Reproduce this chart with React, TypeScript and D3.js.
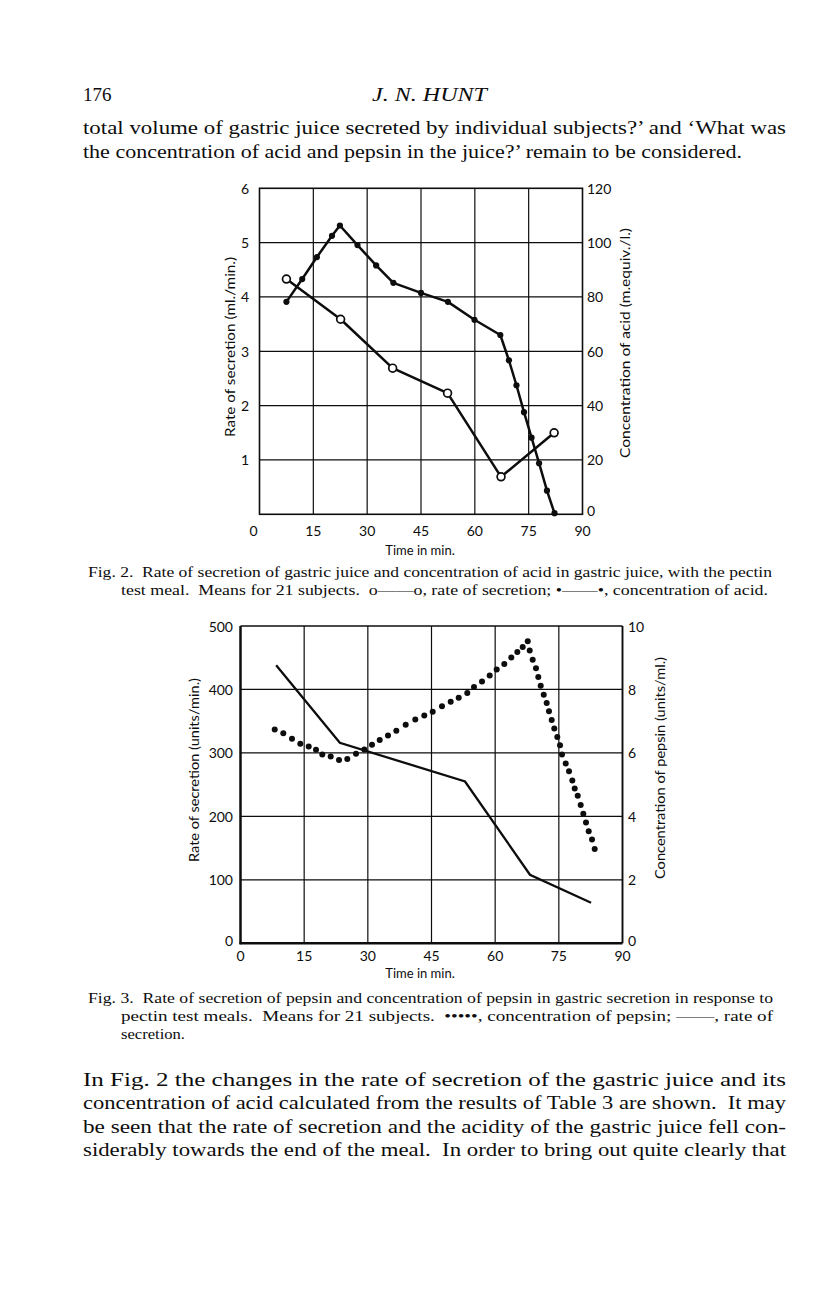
import React from "react";
import * as d3 from "d3";

// ---------- Fig. 2 data ----------
const fig2XTicks = [0, 15, 30, 45, 60, 75, 90];
const fig2LeftTicks = [1, 2, 3, 4, 5, 6];
const fig2RightTicks = [0, 20, 40, 60, 80, 100, 120];
const fig2RateTime = [7.5, 22.6, 37.1, 52.4, 67.3, 82.1];
const fig2RateValues = [4.33, 3.59, 2.69, 2.23, 0.69, 1.5];
const fig2AcidTime = [7.5, 11.9, 16.0, 20.2, 22.4, 27.3, 32.5, 37.3, 45.0, 52.5, 59.9, 67.1, 69.5, 71.6, 73.7, 75.8, 77.9, 80.1, 82.2];
const fig2AcidValues = [78.2, 86.6, 94.7, 102.5, 106.3, 99.1, 91.6, 85.2, 81.5, 78.2, 71.6, 66.0, 56.7, 47.5, 37.6, 28.2, 18.8, 8.7, 0.4];

// ---------- Fig. 3 data ----------
const fig3XTicks = [0, 15, 30, 45, 60, 75, 90];
const fig3LeftTicks = [0, 100, 200, 300, 400, 500];
const fig3RightTicks = [0, 2, 4, 6, 8, 10];
const fig3RateTime = [8.4, 23.4, 52.9, 68.2, 82.6];
const fig3RateValues = [438, 316, 255, 108, 64];
const fig3PepsinTime = [
  8.06, 10.08, 12.13, 14.09, 16.07, 17.79, 19.27, 21.25, 23.21, 25.16, 27.21, 29.17, 30.98, 32.8, 34.75, 36.71,
  38.92, 41.18, 43.3, 45.28, 47.47, 49.52, 51.41, 53.43, 55.01, 56.9, 58.71, 60.36, 62.15, 63.8, 65.22, 66.49, 67.67,
  68.14, 68.84, 69.62, 70.16, 70.73, 71.44, 72.14, 72.68, 73.32, 73.93, 74.64, 75.28, 75.75, 76.62, 77.4, 78.18,
  78.74, 79.45, 80.15, 80.77, 81.4, 82.04, 82.82, 83.45,
];
const fig3PepsinValues = [
  6.74, 6.62, 6.45, 6.29, 6.2, 6.1, 5.95, 5.89, 5.78, 5.81, 5.97, 6.11, 6.26, 6.41, 6.55, 6.7,
  6.89, 7.05, 7.18, 7.3, 7.47, 7.61, 7.74, 7.89, 8.08, 8.25, 8.44, 8.63, 8.8, 9.01, 9.18, 9.34, 9.52,
  9.23, 8.94, 8.67, 8.39, 8.12, 7.83, 7.57, 7.31, 7.04, 6.77, 6.5, 6.24, 5.95, 5.67, 5.42, 5.13,
  4.88, 4.65, 4.36, 4.08, 3.81, 3.53, 3.27, 2.97,
];

// ---------- Text ----------
const pageNumber = "176";
const runningHead = "J. N. HUNT";
const topLines = [
  "total volume of gastric juice secreted by individual subjects?\u2019 and \u2018What was",
  "the concentration of acid and pepsin in the juice?\u2019 remain to be considered.",
];
const fig2Caption = [
  "Fig. 2.  Rate of secretion of gastric juice and concentration of acid in gastric juice, with the pectin",
  "test meal.  Means for 21 subjects.  o\u2014\u2014o, rate of secretion; \u2022\u2014\u2014\u2022, concentration of acid.",
];
const fig3Caption = [
  "Fig. 3.  Rate of secretion of pepsin and concentration of pepsin in gastric secretion in response to",
  "pectin test meals.  Means for 21 subjects.  \u2022\u2022\u2022\u2022\u2022, concentration of pepsin; \u2014\u2014, rate of",
  "secretion.",
];
const bottomLines = [
  "In Fig. 2 the changes in the rate of secretion of the gastric juice and its",
  "concentration of acid calculated from the results of Table 3 are shown.  It may",
  "be seen that the rate of secretion and the acidity of the gastric juice fell con-",
  "siderably towards the end of the meal.  In order to bring out quite clearly that",
];

const SERIF = "'Liberation Serif', 'DejaVu Serif', serif";
const SANS = "Lato, 'Open Sans', sans-serif";
const INK = "#0d0d0d";

function Fig2() {
  const x = d3.scaleLinear().domain([0, 90]).range([259.5, 582.5]);
  const yL = d3.scaleLinear().domain([0, 6]).range([514.3, 188.3]);
  const yR = d3.scaleLinear().domain([0, 120]).range([514.3, 188.3]);
  const rate = fig2RateTime.map((t, i) => [t, fig2RateValues[i]] as [number, number]);
  const acid = fig2AcidTime.map((t, i) => [t, fig2AcidValues[i]] as [number, number]);
  const lineL = d3.line<[number, number]>().x((d) => x(d[0])).y((d) => yL(d[1]));
  const lineR = d3.line<[number, number]>().x((d) => x(d[0])).y((d) => yR(d[1]));
  const [x0, x1] = x.range();
  const [y0, y1] = yL.range();
  return (
    <g>
      {fig2XTicks.slice(1, -1).map((t) => (
        <line key={"vx" + t} x1={x(t)} x2={x(t)} y1={y0} y2={y1} stroke={INK} strokeWidth={1.2} />
      ))}
      {fig2LeftTicks.slice(0, -1).map((v) => (
        <line key={"hy" + v} x1={x0} x2={x1} y1={yL(v)} y2={yL(v)} stroke={INK} strokeWidth={1.2} />
      ))}
      <rect x={x0} y={y1} width={x1 - x0} height={y0 - y1} fill="none" stroke={INK} strokeWidth={1.6} />
      <path d={lineL(rate) || ""} fill="none" stroke={INK} strokeWidth={2.5} strokeLinejoin="round" />
      <path d={lineR(acid) || ""} fill="none" stroke={INK} strokeWidth={2.5} strokeLinejoin="round" />
      {acid.map((d, i) => (
        <circle key={"a" + i} cx={x(d[0])} cy={yR(d[1])} r={3.1} fill={INK} />
      ))}
      {rate.map((d, i) => (
        <circle key={"r" + i} cx={x(d[0])} cy={yL(d[1])} r={3.9} fill="#fff" stroke={INK} strokeWidth={1.7} />
      ))}
      <g fontFamily={SANS} fontSize={14} fill={INK}>
        {fig2LeftTicks.map((v) => (
          <text key={"lt" + v} x={249} y={yL(v)} textAnchor="end" dominantBaseline="central">
            {v}
          </text>
        ))}
        {fig2RightTicks.map((v) => (
          <text key={"rt" + v} x={587} y={yR(v) - (v === 0 ? 4 : 0)} dominantBaseline="central">
            {v}
          </text>
        ))}
        {fig2XTicks.map((t) => (
          <text key={"xt" + t} x={t === 0 ? x(t) - 6 : x(t)} y={530} textAnchor="middle" dominantBaseline="central">
            {t}
          </text>
        ))}
        <text
          transform={`translate(229,${347}) rotate(-90)`}
          textAnchor="middle"
          dominantBaseline="central"
          textLength={180}
          lengthAdjust="spacingAndGlyphs"
        >
          Rate of secretion (ml./min.)
        </text>
        <text
          transform={`translate(624,${343}) rotate(-90)`}
          textAnchor="middle"
          dominantBaseline="central"
          textLength={230}
          lengthAdjust="spacingAndGlyphs"
        >
          Concentration of acid (m.equiv./l.)
        </text>
        <text x={420} y={550} textAnchor="middle" dominantBaseline="central" fontSize={13}>
          Time in min.
        </text>
      </g>
    </g>
  );
}

function Fig3() {
  const x = d3.scaleLinear().domain([0, 90]).range([240.5, 622.5]);
  const yL = d3.scaleLinear().domain([0, 500]).range([943.3, 626]);
  const yR = d3.scaleLinear().domain([0, 10]).range([943.3, 626]);
  const rate = fig3RateTime.map((t, i) => [t, fig3RateValues[i]] as [number, number]);
  const pepsin = fig3PepsinTime.map((t, i) => [t, fig3PepsinValues[i]] as [number, number]);
  const lineL = d3.line<[number, number]>().x((d) => x(d[0])).y((d) => yL(d[1]));
  const [x0, x1] = x.range();
  const [y0, y1] = yL.range();
  return (
    <g>
      {fig3XTicks.slice(1, -1).map((t) => (
        <line key={"vx" + t} x1={x(t)} x2={x(t)} y1={y0} y2={y1} stroke={INK} strokeWidth={1.2} />
      ))}
      {fig3LeftTicks.slice(1, -1).map((v) => (
        <line key={"hy" + v} x1={x0} x2={x1} y1={yL(v)} y2={yL(v)} stroke={INK} strokeWidth={1.2} />
      ))}
      <line x1={x0} x2={x1} y1={y1} y2={y1} stroke={INK} strokeWidth={1.6} />
      <line x1={x1} x2={x1} y1={y1} y2={y0} stroke={INK} strokeWidth={1.9} />
      <line x1={x0} x2={x0} y1={y1} y2={y0 + 1} stroke={INK} strokeWidth={2.5} />
      <line x1={x0 - 1} x2={x1} y1={y0} y2={y0} stroke={INK} strokeWidth={2.5} />
      <path d={lineL(rate) || ""} fill="none" stroke={INK} strokeWidth={2.3} strokeLinejoin="miter" />
      {pepsin.map((d, i) => (
        <circle key={"p" + i} cx={x(d[0])} cy={yR(d[1])} r={3} fill={INK} />
      ))}
      <g fontFamily={SANS} fontSize={14} fill={INK}>
        {fig3LeftTicks.map((v) => (
          <text key={"lt" + v} x={233} y={yL(v) - (v === 0 ? 3 : 0)} textAnchor="end" dominantBaseline="central">
            {v}
          </text>
        ))}
        {fig3RightTicks.map((v) => (
          <text key={"rt" + v} x={628} y={yR(v) - (v === 0 ? 3 : 0)} dominantBaseline="central">
            {v}
          </text>
        ))}
        {fig3XTicks.map((t) => (
          <text key={"xt" + t} x={x(t)} y={955} textAnchor="middle" dominantBaseline="central">
            {t}
          </text>
        ))}
        <text
          transform={`translate(193,${770}) rotate(-90)`}
          textAnchor="middle"
          dominantBaseline="central"
          textLength={184}
          lengthAdjust="spacingAndGlyphs"
        >
          Rate of secretion (units/min.)
        </text>
        <text
          transform={`translate(659,${768}) rotate(-90)`}
          textAnchor="middle"
          dominantBaseline="central"
          textLength={222}
          lengthAdjust="spacingAndGlyphs"
        >
          Concentration of pepsin (units/ml.)
        </text>
        <text x={420} y={973} textAnchor="middle" dominantBaseline="central" fontSize={13}>
          Time in min.
        </text>
      </g>
    </g>
  );
}

function TextLine({ x, y, text, width, size }: { x: number; y: number; text: string; width?: number; size: number }) {
  return (
    <text
      x={x}
      y={y}
      fontFamily={SERIF}
      fontSize={size}
      fill={INK}
      textLength={width}
      lengthAdjust={width ? "spacingAndGlyphs" : undefined}
      style={{ whiteSpace: "pre" }}
    >
      {text}
    </text>
  );
}

export default function App() {
  const topY = [134, 158];
  const bottomY = [1086, 1109, 1133, 1156];
  return (
    <svg
      width={816}
      height={1296}
      viewBox="0 0 816 1296"
      style={{ position: "absolute", left: 0, top: 0, background: "#fff" }}
    >
      <rect x={0} y={0} width={816} height={1296} fill="#fff" />
      <text x={83} y={101} fontFamily={SERIF} fontSize={19} fill={INK}>
        {pageNumber}
      </text>
      <text
        x={372}
        y={101}
        fontFamily={SERIF}
        fontSize={19}
        fontStyle="italic"
        fill={INK}
        textLength={115}
        lengthAdjust="spacingAndGlyphs"
      >
        {runningHead}
      </text>
      <TextLine x={83} y={topY[0]} text={topLines[0]} width={703} size={19} />
      <TextLine x={83} y={topY[1]} text={topLines[1]} width={659} size={19} />

      <Fig2 />
      <TextLine x={88} y={577} text={fig2Caption[0]} width={684} size={14.5} />
      <TextLine x={121} y={595} text={fig2Caption[1]} width={647} size={14.5} />

      <Fig3 />
      <TextLine x={88} y={1003} text={fig3Caption[0]} width={685} size={14.5} />
      <TextLine x={121} y={1021} text={fig3Caption[1]} width={652} size={14.5} />
      <TextLine x={121} y={1039} text={fig3Caption[2]} width={64} size={14.5} />

      {bottomLines.map((l, i) => (
        <TextLine key={i} x={83} y={bottomY[i]} text={l} width={703} size={19} />
      ))}
    </svg>
  );
}
